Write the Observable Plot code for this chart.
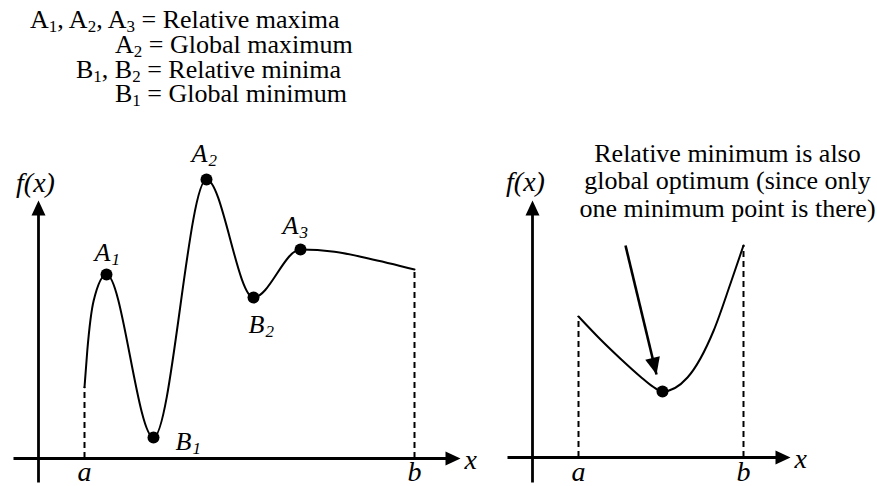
<!DOCTYPE html>
<html>
<head>
<meta charset="utf-8">
<script src="https://cdn.jsdelivr.net/npm/d3@7"></script>
<script src="https://cdn.jsdelivr.net/npm/@observablehq/plot@0.6"></script>
<style>
  html, body { margin: 0; padding: 0; background: #fff; }
  body { font-family: 'Liberation Serif', 'Times New Roman', Tinos, Times, serif; }
  #figure { position: relative; width: 877px; height: 486px; overflow: hidden; color: #000; }
  .key-row {
    position: absolute; font-family: 'Liberation Serif', 'Times New Roman', Tinos, Times, serif;
    font-size: 26px; line-height: 26px; white-space: nowrap;
  }
  .key-row sub { font-size: 17px; line-height: 0; vertical-align: baseline; position: relative; top: 4px; }
</style>
</head>
<body>
<div id="figure"></div>
<script>
// ---------- data ----------

// Key of the extrema shown in the left panel
const keyTerms = [["A1", "A2", "A3"], ["A2"], ["B1", "B2"], ["B1"]];
const keyMeanings = ["Relative maxima", "Global maximum", "Relative minima", "Global minimum"];

// Left panel: f(x) on [a, b] with several relative extrema
const leftCurve = [
  {x: 1.15, y: 1.78},
  {x: 1.22, y: 2.70},
  {x: 1.38, y: 3.95},
  {x: 1.70, y: 4.60},
  {x: 2.875, y: 0.525},
  {x: 4.20, y: 6.975},
  {x: 5.375, y: 4.025},
  {x: 6.55, y: 5.225},
  {x: 7.40, y: 5.17},
  {x: 8.25, y: 5.00},
  {x: 9.40, y: 4.725}
];
const leftExtrema = [
  {label: "A1", x: 1.70, y: 4.60},
  {label: "B1", x: 2.875, y: 0.525},
  {label: "A2", x: 4.20, y: 6.975},
  {label: "B2", x: 5.375, y: 4.025},
  {label: "A3", x: 6.55, y: 5.225}
];
const leftAxes = {xFrom: -0.625, xTo: 10.55, yFrom: -0.6, yTo: 6.45};

// Right panel: f(x) on [a, b] with a single minimum
const rightCurve = [
  {x: 1.15, y: 3.525},
  {x: 1.70, y: 2.95},
  {x: 2.20, y: 2.47},
  {x: 2.70, y: 2.02},
  {x: 3.00, y: 1.78},
  {x: 3.25, y: 1.65},
  {x: 3.875, y: 2.00},
  {x: 4.53, y: 3.175},
  {x: 4.95, y: 4.35},
  {x: 5.275, y: 5.30}
];
const rightMinimum = [{x: 3.25, y: 1.65}];
const rightAxes = {xFrom: -0.625, xTo: 6.45, yFrom: -0.625, yTo: 6.425};
const rightNote = ["Relative minimum is also", "global optimum (since only", "one minimum point is there)"];
const rightPointer = {x1: 2.325, y1: 5.30, x2: 3.10, y2: 2.075};

const boundNames = ["a", "b"];

// ---------- layout ----------
const UNIT = 40; // pixels per data unit, same on both axes
const SERIF = "'Liberation Serif', 'Times New Roman', Tinos, Times, serif";
const frames = {
  left:  {left: 0,   top: 140, width: 480, height: 346, originX: 38, originY: 318},
  right: {left: 490, top: 120, width: 387, height: 366, originX: 42, originY: 337}
};
const keyLayout = [
  {left: 30, baseline: 29},
  {left: 115, baseline: 54},
  {left: 76, baseline: 78.5},
  {left: 115, baseline: 103}
];
// label placement relative to each extremum, in pixels (dx, dy downward)
const labelOffsets = {A1: [4, -14], A2: [1, -18], A3: [-2, -16], B1: [38, 12], B2: [11, 35]};

// filled triangular arrowhead with its tip at the point, pointing along angle (deg, screen space)
function arrowhead(angleDeg, length = 15, width = 14) {
  const a = angleDeg * Math.PI / 180, c = Math.cos(a), s = Math.sin(a);
  return {
    draw(ctx) {
      const bx = -length * c, by = -length * s;
      ctx.moveTo(0, 0);
      ctx.lineTo(bx - (width / 2) * s, by + (width / 2) * c);
      ctx.lineTo(bx + (width / 2) * s, by - (width / 2) * c);
      ctx.closePath();
    }
  };
}

const fig = document.getElementById("figure");

// key rows with subscripts
keyTerms.forEach((terms, i) => {
  const row = document.createElement("div");
  row.className = "key-row";
  row.style.left = keyLayout[i].left + "px";
  row.style.top = (keyLayout[i].baseline - 21.8) + "px";
  row.innerHTML = terms.map(t => `${t[0]}<sub>${t.slice(1)}</sub>`).join(", ") + " = " + keyMeanings[i];
  fig.append(row);
});

function axesMarks(ax, xLabelDy) {
  const xAxis = [{x1: ax.xFrom, y1: 0, x2: ax.xTo - 6 / UNIT, y2: 0}];
  const yAxis = [{x1: 0, y1: ax.yFrom, x2: 0, y2: ax.yTo - 6 / UNIT}];
  return [
    Plot.link(xAxis, {x1: "x1", y1: "y1", x2: "x2", y2: "y2", stroke: "black", strokeWidth: 2.8}),
    Plot.link(yAxis, {x1: "x1", y1: "y1", x2: "x2", y2: "y2", stroke: "black", strokeWidth: 2.8}),
    Plot.dot([ax], {x: "xTo", y: 0, r: 1, symbol: arrowhead(0), fill: "black", stroke: "none"}),
    Plot.dot([ax], {x: 0, y: "yTo", r: 1, symbol: arrowhead(-90), fill: "black", stroke: "none"}),
    Plot.text([ax], {x: "xTo", y: 0, text: () => "x", dx: 4, dy: xLabelDy, textAnchor: "start",
      lineAnchor: "bottom", fontStyle: "italic", fontSize: 28, fontFamily: SERIF})
  ];
}

function boundMarks(curve, boundDy) {
  const bounds = [curve[0], curve[curve.length - 1]];
  return [
    Plot.ruleX(bounds, {x: "x", y1: 0, y2: "y", stroke: "black", strokeWidth: 2, strokeDasharray: "6,4"}),
    Plot.text(bounds, {x: "x", y: 0, text: (d, i) => boundNames[i], dy: boundDy, lineAnchor: "bottom",
      fontStyle: "italic", fontSize: 28, fontFamily: SERIF})
  ];
}

function fLabel(ax, dx, dy) {
  return Plot.text([ax], {x: 0, y: "yTo", text: () => "f(x)", dx, dy, lineAnchor: "bottom",
    fontStyle: "italic", fontSize: 28, fontFamily: SERIF});
}

function panel(frame, marks) {
  const svg = Plot.plot({
    width: frame.width,
    height: frame.height,
    margin: 0,
    x: {domain: [-frame.originX / UNIT, (frame.width - frame.originX) / UNIT], axis: null},
    y: {domain: [(frame.originY - frame.height) / UNIT, frame.originY / UNIT], axis: null},
    style: {fontFamily: SERIF, background: "transparent", overflow: "visible"},
    marks
  });
  svg.style.position = "absolute";
  svg.style.left = frame.left + "px";
  svg.style.top = frame.top + "px";
  fig.append(svg);
}

// left panel
panel(frames.left, [
  ...axesMarks(leftAxes, 10),
  ...boundMarks(leftCurve, 22),
  fLabel(leftAxes, -3, -9),
  Plot.line(leftCurve, {x: "x", y: "y", curve: "monotone-x", stroke: "black", strokeWidth: 2}),
  Plot.dot(leftExtrema, {x: "x", y: "y", r: 6, fill: "black", stroke: "none"}),
  Plot.text(leftExtrema, {
    x: d => d.x + labelOffsets[d.label][0] / UNIT,
    y: d => d.y - labelOffsets[d.label][1] / UNIT,
    text: d => d.label[0], textAnchor: "end", lineAnchor: "bottom",
    fontStyle: "italic", fontSize: 26, fontFamily: SERIF
  }),
  Plot.text(leftExtrema, {
    x: d => d.x + labelOffsets[d.label][0] / UNIT,
    y: d => d.y - labelOffsets[d.label][1] / UNIT,
    text: d => d.label.slice(1), textAnchor: "start", lineAnchor: "bottom", dx: 1, dy: 4,
    fontStyle: "italic", fontSize: 17, fontFamily: SERIF
  })
]);

// right panel
const pointerAngle = Math.atan2(-(rightPointer.y2 - rightPointer.y1), rightPointer.x2 - rightPointer.x1) * 180 / Math.PI;
panel(frames.right, [
  ...axesMarks(rightAxes, 10),
  ...boundMarks(rightCurve, 23),
  fLabel(rightAxes, -7, -10),
  Plot.line(rightCurve, {x: "x", y: "y", curve: "monotone-x", stroke: "black", strokeWidth: 2}),
  Plot.dot(rightMinimum, {x: "x", y: "y", r: 6, fill: "black", stroke: "none"}),
  Plot.link([rightPointer], {x1: "x1", y1: "y1", x2: "x2", y2: "y2", stroke: "black", strokeWidth: 2.6}),
  Plot.dot([rightPointer], {x: "x2", y: "y2", r: 1, symbol: arrowhead(pointerAngle, 17, 15), fill: "black", stroke: "none"}),
  Plot.text([rightPointer], {x: "x1", y: "y1", text: () => rightNote.join("\n"), dx: 102, dy: -29,
    lineAnchor: "bottom", lineHeight: 27.5 / 26, fontSize: 26, fontFamily: SERIF})
]);
</script>
</body>
</html>
